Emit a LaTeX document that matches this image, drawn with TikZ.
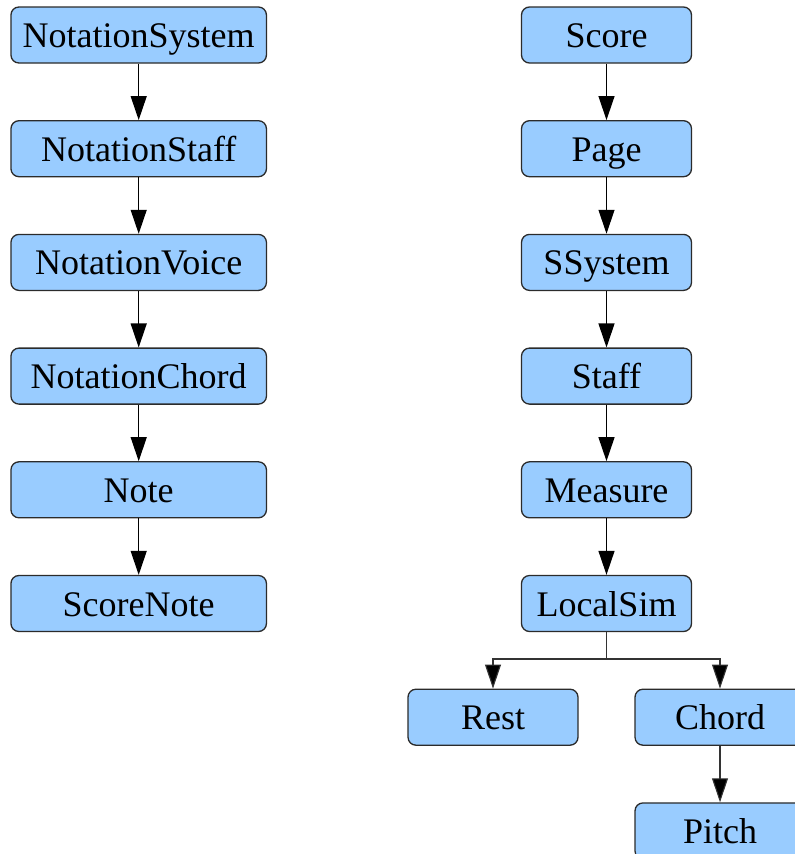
\documentclass[tikz,border=0pt]{standalone}
\usepackage{fontspec}
\setmainfont{Liberation Serif}
\usetikzlibrary{arrows.meta}
\definecolor{boxfill}{HTML}{99CCFF}
\definecolor{boxline}{HTML}{2B2B2B}
\begin{document}
\begin{tikzpicture}[x=1pt,y=-1pt,
  cls/.style={draw=boxline, line width=1.3pt, fill=boxfill, rounded corners=8pt,
    inner sep=0pt, text height=27.6pt, text depth=2.6pt, minimum height=56pt,
    font=\fontsize{36}{40}\selectfont},
  wide/.style={cls, minimum width=255.5pt},
  narrow/.style={cls, minimum width=170pt},
  tip/.style={-{Triangle[length=24pt,width=16pt,fill=black]}},
  link/.style={line width=1.2pt, tip},
  fork/.style={line width=1.1pt, draw=black!80, tip}]
\useasboundingbox (0,0) rectangle (795,854);
% left column
\node[wide] (ns) at (138.7,35) {NotationSystem};
\node[wide] (nst) at (138.7,148.7) {NotationStaff};
\node[wide] (nv) at (138.7,262.4) {NotationVoice};
\node[wide] (nc) at (138.7,376.1) {NotationChord};
\node[wide] (nn) at (138.7,489.8) {Note};
\node[wide] (sn) at (138.7,603.5) {ScoreNote};
\draw[link] (ns) -- (nst);
\draw[link] (nst) -- (nv);
\draw[link] (nv) -- (nc);
\draw[link] (nc) -- (nn);
\draw[link] (nn) -- (sn);
% right column
\node[narrow] (sc) at (606.5,35) {Score};
\node[narrow] (pg) at (606.5,148.7) {Page};
\node[narrow] (ss) at (606.5,262.4) {SSystem};
\node[narrow] (st) at (606.5,376.1) {Staff};
\node[narrow] (ms) at (606.5,489.8) {Measure};
\node[narrow] (ls) at (606.5,603.5) {LocalSim};
\node[narrow] (rs) at (493,717.2) {Rest};
\node[narrow] (ch) at (720,717.2) {Chord};
\node[narrow] (pt) at (720,830.9) {Pitch};
\draw[link] (sc) -- (pg);
\draw[link] (pg) -- (ss);
\draw[link] (ss) -- (st);
\draw[link] (st) -- (ms);
\draw[link] (ms) -- (ls);
\coordinate (split) at (606.5,659);
\draw[line width=1.1pt, draw=black!80] (ls.south) -- (split);
\draw[fork] (split) -| (rs.north);
\draw[fork] (split) -| (ch.north);
\draw[fork] (ch) -- (pt);
\end{tikzpicture}
\end{document}
